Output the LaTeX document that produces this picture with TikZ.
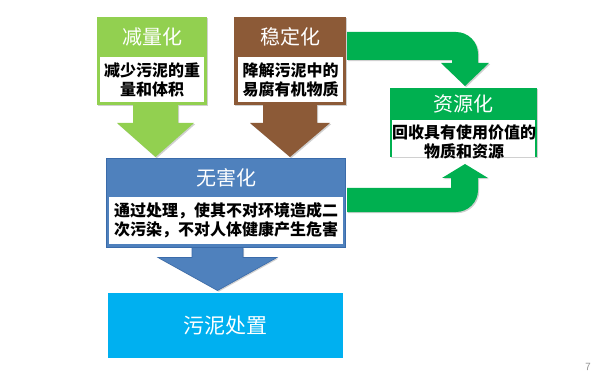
\documentclass[tikz,border=0pt]{standalone}
\usepackage{fontspec}
\newfontfamily\cjk{Noto Sans CJK SC}
\usetikzlibrary{calc,shadows}
\definecolor{lgreen}{HTML}{92D050}
\definecolor{brownc}{HTML}{8C5A37}
\definecolor{blueT}{HTML}{4F81BD}
\definecolor{blueD}{HTML}{3A6BAA}
\definecolor{sky}{HTML}{00B0F0}
\definecolor{dgreen}{HTML}{00B050}
\begin{document}
\begin{tikzpicture}[x=1pt,y=-1pt,
  box/.style={draw=none, inner sep=0pt, outer sep=0pt, anchor=north west},
  ttl/.style={text=white, inner sep=0pt, font=\cjk\fontsize{20}{20}\selectfont},
  body/.style={fill=white, inner sep=0pt, outer sep=0pt, align=center, font=\cjk\bfseries\fontsize{16}{19}\selectfont},
  shad/.style={drop shadow={shadow xshift=1.2pt,shadow yshift=-1.2pt,opacity=0.3,fill=black!60}}
]
\useasboundingbox (0,0) rectangle (610,374);
\fill[white] (0,0) rectangle (610,374);

% top-left box
\node[box, fill=lgreen, shad, minimum width=110pt, minimum height=88pt] (jl) at (97,17) {};
\node[body, minimum width=104pt, minimum height=45pt] (jlb) at (152,79.5) {减少污泥的重\\量和体积};
\node[ttl] (jlt) at (152,37) {减量化};

% top-middle box
\node[box, fill=brownc, shad, minimum width=112pt, minimum height=88pt] (wd) at (234,17) {};
\node[body, minimum width=105pt, minimum height=45pt] (wdb) at (290.5,79.5) {降解污泥中的\\易腐有机物质};
\node[ttl] (wdt) at (290,37) {稳定化};

% down arrows from top boxes
\fill[lgreen, shad] ($(jl.south)+(-19,0)$) -- ++(0,18) -- ++(-16,0) -- ++(38.5,34) -- ++(38.5,-34) -- ++(-16,0) -- ++(0,-18) -- cycle;
\fill[brownc, shad] ($(wd.south)+(-27,0)$) -- ++(0,18) -- ++(-13,0) -- ++(40,34) -- ++(40,-34) -- ++(-13,0) -- ++(0,-18) -- cycle;

% middle blue box
\node[box, fill=blueT, draw=blueD, line width=1pt, shad, minimum width=239pt, minimum height=88pt] (wh) at (106,159) {};
\node[body, minimum width=234pt, minimum height=46pt] (whb) at (226,220.5) {通过处理，使其不对环境造成二\\次污染，不对人体健康产生危害};
\node[ttl] (wht) at (226,178) {无害化};

% blue down arrow
\fill[blueT, draw=blueD, line width=0.6pt, shad] ($(wh.south)+(-33.5,0.5)$) -- ++(0,10) -- ++(-34,0) -- ++(59.5,33) -- ++(59.5,-33) -- ++(-34,0) -- ++(0,-10) -- cycle;

% bottom box
\node[box, fill=sky, minimum width=235pt, minimum height=65pt] (cz) at (108,293) {};
\node[text=white, inner sep=0pt, font=\cjk\fontsize{21}{21}\selectfont] (czt) at (cz.center) {污泥处置};

% right green box
\node[box, fill=dgreen, shad, minimum width=147pt, minimum height=69pt] (zy) at (390,88) {};
\fill[white] ($(zy.south west)+(2,-37)$) rectangle ($(zy.south east)+(-2,0.5)$);
\node[inner sep=0pt, align=center, font=\cjk\bfseries\fontsize{16}{19.5}\selectfont] (zyb) at (464,142) {回收具有使用价值的\\物质和资源};
\node[ttl] (zyt) at (463.5,104) {资源化};

% curved green arrows
\fill[dgreen, shad] ($(wd.north east)+(1,15)$) -- (456,32) .. controls (468.1,32) and (478,41.9) .. (478,54) -- (478,63) -- (489,63) -- (465,86) -- (441,63) -- (452,63) -- (452,60) -- ($(wd.north east)+(1,43)$) -- cycle;
\fill[dgreen, shad] ($(wh.north east)+(2,53)$) -- (456,212) .. controls (468.1,212) and (478,202.1) .. (478,190) -- (478,178) -- (488,178) -- (465,164) -- (442,178) -- (451,178) -- (451,188) -- ($(wh.north east)+(2,29)$) -- cycle;

% page number
\node[text=black!45, inner sep=0pt, font=\sffamily\fontsize{11}{11}\selectfont] (pg) at (588,367) {7};
\end{tikzpicture}
\end{document}
